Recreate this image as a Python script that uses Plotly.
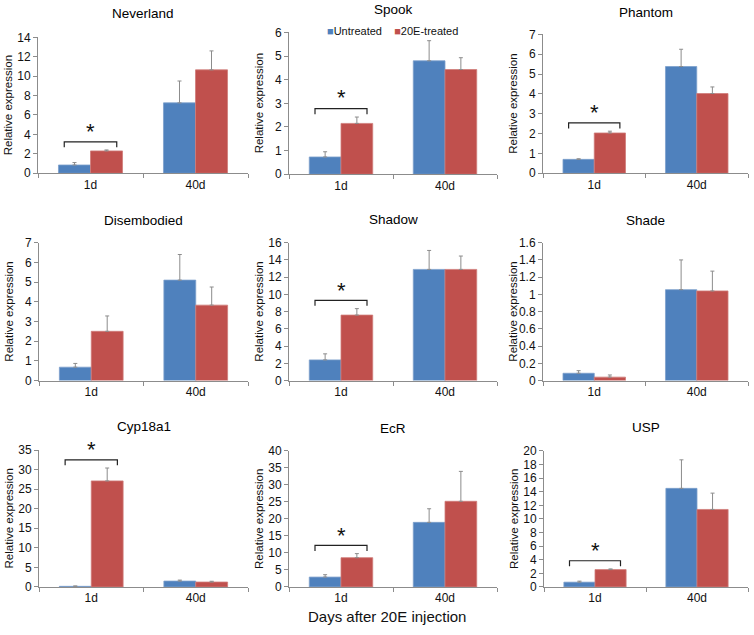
import plotly.graph_objects as go

W, H = 754, 635

genes = ["Neverland", "Spook", "Phantom",
         "Disembodied", "Shadow", "Shade",
         "Cyp18a1", "EcR", "USP"]
days = ["1d", "40d"]
series_names = ["Untreated", "20E-treated"]

untreated = [[0.85, 7.25], [0.73, 4.80], [0.70, 5.38],
             [0.68, 5.10], [2.40, 12.9], [0.085, 1.055],
             [0.15, 1.50], [2.90, 19.0], [0.70, 14.5]]
untreated_se = [[0.25, 2.25], [0.22, 0.85], [0.03, 0.87],
                [0.19, 1.30], [0.70, 2.20], [0.03, 0.345],
                [0.10, 0.25], [0.70, 4.00], [0.15, 4.20]]
treated = [[2.30, 10.65], [2.15, 4.43], [2.03, 4.02],
           [2.50, 3.83], [7.60, 12.9], [0.04, 1.04],
           [27.1, 1.25], [8.60, 25.2], [2.55, 11.4]]
treated_se = [[0.10, 1.95], [0.27, 0.50], [0.09, 0.33],
              [0.78, 0.92], [0.75, 1.55], [0.025, 0.23],
              [3.30, 0.20], [1.20, 8.80], [0.10, 2.40]]
significant_1d = [True, True, True, False, True, False, True, True, True]

y_max = [14, 6, 7, 7, 16, 1.6, 35, 40, 20]
y_step = [2, 1, 1, 1, 2, 0.2, 5, 5, 2]

# plot-area rectangles in pixels: (left, right, top, bottom)
boxes = [(38, 248, 31, 170), (289, 497, 26, 171), (543, 748, 28, 170),
         (39, 248, 241, 382), (289, 497, 241, 382), (543, 748, 241, 382),
         (39, 248, 453, 593), (289, 497, 454, 593), (544, 748, 454, 593)]
title_y = [12, 8, 11, 223, 222, 223, 434, 436, 435]

BLUE = "#4F81BD"
RED = "#C0504D"
ERR = "#8C8C8C"
AXIS = "#8C8C8C"
FONT = "Arial, Liberation Sans, sans-serif"

fig = go.Figure()
annotations = []
shapes = []

x_pos = [0, 1]

for i, g in enumerate(genes):
    n = i + 1
    xa = "x" if n == 1 else f"x{n}"
    ya = "y" if n == 1 else f"y{n}"
    for vals, se, col, edge, name in [
        (untreated[i], untreated_se[i], BLUE, "#7C9FCB", series_names[0]),
        (treated[i], treated_se[i], RED, "#CF7C7A", series_names[1]),
    ]:
        fig.add_trace(go.Bar(
            x=x_pos, y=vals, name=name, xaxis=xa, yaxis=ya,
            marker=dict(color=col, line=dict(color=edge, width=0.8)),
            error_y=dict(type="data", symmetric=False, array=se,
                         arrayminus=[0] * len(se), color=ERR,
                         thickness=1, width=2),
            showlegend=False, offsetgroup=name,
        ))
    l, r, t, b = boxes[i]
    xkey = "xaxis" if n == 1 else f"xaxis{n}"
    ykey = "yaxis" if n == 1 else f"yaxis{n}"
    tv = []
    v = 0.0
    while v <= y_max[i] + 1e-9:
        tv.append(round(v, 4))
        v += y_step[i]
    tt = [("%g" % x) for x in tv]
    fig.update_layout({
        xkey: dict(domain=[l / W, r / W], anchor=ya, range=[-0.5, 1.5],
                   tickvals=x_pos, ticktext=days, ticks="",
                   showline=True, linecolor=AXIS, linewidth=1,
                   showgrid=False, zeroline=False, fixedrange=True,
                   tickfont=dict(size=12, color="#111", family=FONT),
                   minor=dict(tickvals=[-0.5, 0.5, 1.5], ticks="outside",
                              ticklen=4, tickcolor=AXIS, showgrid=False)),
        ykey: dict(domain=[1 - b / H, 1 - t / H], anchor=xa,
                   range=[0, y_max[i]], tickvals=tv, ticktext=tt,
                   ticks="outside", ticklen=4, tickcolor=AXIS,
                   showline=True, linecolor=AXIS, linewidth=1,
                   showgrid=False, zeroline=False, fixedrange=True,
                   tickfont=dict(size=12, color="#111", family=FONT)),
    })
    # panel title
    annotations.append(dict(text=g, x=(l + r) / 2 / W, y=1 - title_y[i] / H,
                            xref="paper", yref="paper", showarrow=False,
                            xanchor="center", yanchor="middle", yshift=5,
                            font=dict(size=13.5, color="#000", family=FONT)))
    # y-axis title
    annotations.append(dict(text="Relative expression", x=(l - 30) / W,
                            y=1 - (t + b) / 2 / H, xref="paper", yref="paper",
                            showarrow=False, textangle=-90,
                            xanchor="center", yanchor="middle",
                            font=dict(size=11.5, color="#111", family=FONT)))
    # significance bracket + star over the 1d group
    if significant_1d[i]:
        top = max(untreated[i][0] + untreated_se[i][0],
                  treated[i][0] + treated_se[i][0])
        lvl = top + 0.06 * y_max[i]
        leg = lvl - 0.04 * y_max[i]
        star = lvl + 0.075 * y_max[i]
        shapes.append(dict(type="path", xref=xa, yref=ya,
                           path=f"M -0.25,{leg} L -0.25,{lvl} L 0.25,{lvl} L 0.25,{leg}",
                           line=dict(color="#222", width=1.2)))
        annotations.append(dict(text="*", x=0.25, y=star / y_max[i],
                                xref=f"{xa} domain", yref=f"{ya} domain",
                                showarrow=False, xanchor="center",
                                yanchor="middle",
                                font=dict(size=22, color="#111", family=FONT)))

# legend (inside the Spook panel)
annotations.append(dict(
    text=f"<span style='color:{BLUE}'>■</span>Untreated    "
         f"<span style='color:{RED}'>■</span>20E-treated",
    x=325 / W, y=1 - 25 / H, xref="paper", yref="paper", showarrow=False,
    xanchor="left", yanchor="middle",
    font=dict(size=11, color="#111", family=FONT)))

# shared x-axis title
annotations.append(dict(text="Days after 20E injection", x=387 / W,
                        y=1 - 623 / H, xref="paper", yref="paper",
                        showarrow=False, xanchor="center", yanchor="middle",
                        font=dict(size=15, color="#111", family=FONT)))

fig.update_layout(
    width=W, height=H, margin=dict(l=0, r=0, t=0, b=0),
    paper_bgcolor="white", plot_bgcolor="white",
    barmode="group", bargap=0.39, bargroupgap=0,
    annotations=annotations, shapes=shapes, showlegend=False,
    font=dict(family=FONT),
)

fig.write_html("out.html", config={"displayModeBar": False},
               post_script="document.body.style.margin='0';"
                           "document.body.style.overflow='hidden';")
